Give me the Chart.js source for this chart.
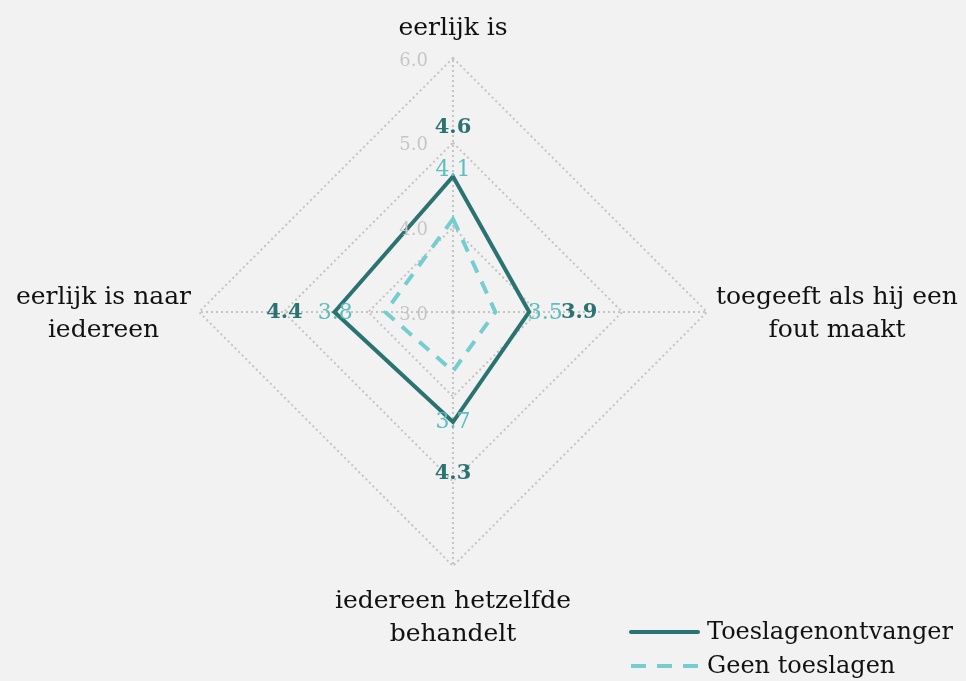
<!DOCTYPE html>
<html>
<head>
<meta charset="utf-8">
<script src="https://cdn.jsdelivr.net/npm/chart.js@4.4.1/dist/chart.umd.min.js"></script>
<style>
  html, body { margin: 0; padding: 0; background: #f2f2f2; }
  #wrap { width: 966px; height: 681px; }
</style>
</head>
<body>
<div id="wrap"><canvas id="radar" width="966" height="681"></canvas></div>
<script>
// axes, clockwise from the top
const categories = [
  ['eerlijk is'],
  ['toegeeft als hij een', 'fout maakt'],
  ['iedereen hetzelfde', 'behandelt'],
  ['eerlijk is naar', 'iedereen']
];
const ontvanger = [4.6, 3.9, 4.3, 4.4];
const geenToeslagen = [4.1, 3.5, 3.7, 3.8];
const tickValues = [3, 4, 5, 6];
const seriesNames = ['Toeslagenontvanger', 'Geen toeslagen'];

const DARK = '#2b7371';
const LIGHT = '#75cdcd';
const LIGHT_TEXT = '#5fbdbe';
const GRID = '#c4c4c4';
const FONT = 'DejaVu Serif';

Chart.defaults.font.family = FONT;

// labels, ticks and legend are painted on the canvas after the radar itself
const overlay = {
  id: 'overlay',
  afterDatasetsDraw(chart) {
    const ctx = chart.ctx;
    const r = chart.scales.r;
    ctx.save();

    // tick values, left of the vertical axis
    ctx.font = '18px ' + FONT;
    ctx.fillStyle = '#c6c6c6';
    ctx.textAlign = 'right';
    ctx.textBaseline = 'middle';
    tickValues.forEach(function(v) {
      const d = r.getDistanceFromCenterForValue(v);
      ctx.fillText(v.toFixed(1), r.xCenter - 25, r.yCenter - d + 3);
    });

    // value labels, pushed outwards from each vertex
    const sets = [
      { data: ontvanger, color: DARK, font: 'bold 21px ' + FONT },
      { data: geenToeslagen, color: LIGHT_TEXT, font: '22px ' + FONT }
    ];
    ctx.textAlign = 'center';
    ctx.textBaseline = 'middle';
    sets.forEach(function(s) {
      ctx.font = s.font;
      ctx.fillStyle = s.color;
      s.data.forEach(function(v, i) {
        const d = r.getDistanceFromCenterForValue(v) + 50;
        const p = r.getPointPosition(i, d);
        ctx.fillText(v.toFixed(1), p.x, p.y + 1);
      });
    });

    // category names round the outside
    ctx.font = '25px ' + FONT;
    ctx.fillStyle = '#111';
    const lh = 33;
    const pads = [30, 9, 20, 8];
    categories.forEach(function(lines, i) {
      const p = r.getPointPosition(i, r.drawingArea + pads[i]);
      const w = Math.max.apply(null, lines.map(function(t) { return ctx.measureText(t).width; }));
      let cx = p.x, top;
      if (i === 0) top = p.y - (lines.length - 1) * lh;
      else if (i === 2) top = p.y + lh / 2 - 1;
      else top = p.y - (lines.length - 1) * lh / 2 + 2;
      if (i === 1) cx = p.x + w / 2;
      if (i === 3) cx = p.x - w / 2;
      lines.forEach(function(t, k) {
        ctx.fillText(t, cx, top + k * lh);
      });
    });

    // legend, bottom right
    const styles = [
      { color: DARK, dash: [] },
      { color: LIGHT, dash: [15, 11] }
    ];
    ctx.font = '24px ' + FONT;
    ctx.textAlign = 'left';
    seriesNames.forEach(function(name, i) {
      const y = 632 + i * 34;
      ctx.beginPath();
      ctx.setLineDash(styles[i].dash);
      ctx.lineWidth = 4;
      ctx.lineCap = i === 0 ? 'round' : 'butt';
      ctx.strokeStyle = styles[i].color;
      ctx.moveTo(631, y);
      ctx.lineTo(698, y);
      ctx.stroke();
      ctx.setLineDash([]);
      ctx.fillStyle = '#111';
      ctx.fillText(name, 707, y + 1);
    });

    ctx.restore();
  }
};

new Chart(document.getElementById('radar'), {
  type: 'radar',
  data: {
    labels: categories,
    datasets: [
      {
        label: seriesNames[0],
        data: ontvanger,
        borderColor: DARK,
        borderWidth: 4,
        fill: false,
        pointRadius: 0,
        tension: 0
      },
      {
        label: seriesNames[1],
        data: geenToeslagen,
        borderColor: LIGHT,
        borderWidth: 4,
        borderDash: [13, 10],
        fill: false,
        pointRadius: 0,
        tension: 0
      }
    ]
  },
  options: {
    responsive: false,
    animation: false,
    layout: { padding: { left: 199, right: 259, top: 58, bottom: 115 } },
    plugins: {
      legend: { display: false },
      tooltip: { enabled: false }
    },
    scales: {
      r: {
        min: 3,
        max: 6,
        ticks: { stepSize: 1, display: false },
        pointLabels: { display: false },
        grid: { color: GRID, lineWidth: 2 },
        border: { dash: [2, 3] },
        angleLines: {
          color: GRID,
          lineWidth: 2,
          borderDash: [2, 3]
        }
      }
    }
  },
  plugins: [overlay]
});
</script>
</body>
</html>
